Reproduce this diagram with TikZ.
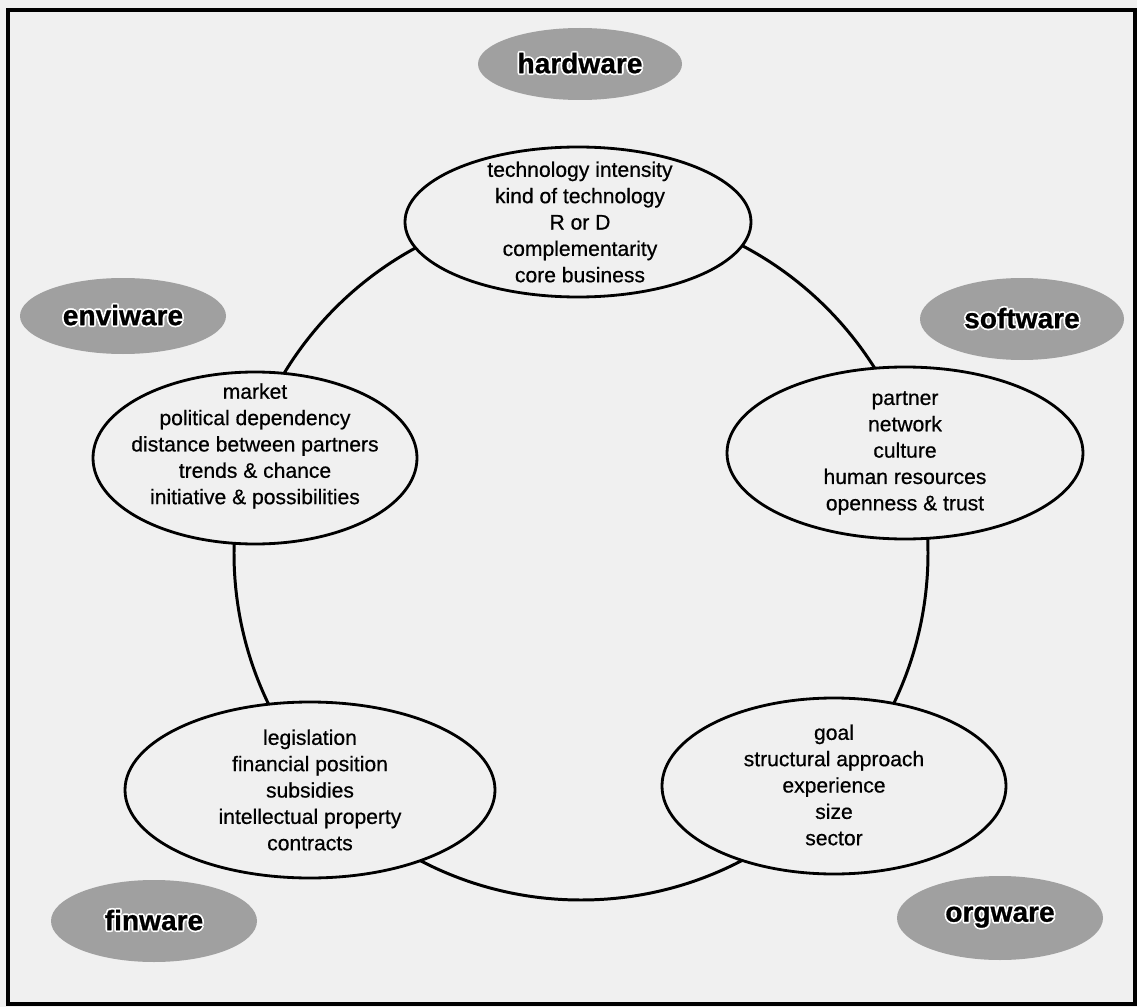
\documentclass[tikz,border=0pt]{standalone}
\usepackage{fontspec}
\setmainfont{Liberation Sans}
\newfontface\itemfont{Liberation Sans}[FakeBold=0.6]
\newfontface\warefont{Liberation Sans Bold}[FakeBold=0.8]
\usepackage[copies]{contour}
\contourlength{1pt}
\contournumber{8}
\usetikzlibrary{shapes.geometric}
\definecolor{paper}{RGB}{240,240,240}
\definecolor{halftone}{RGB}{160,160,160}
\tikzset{
  factorbox/.style={ellipse, draw=black, line width=1.6pt, fill=paper, inner sep=0pt},
  factortext/.style={align=center, inner sep=0pt, font=\fontsize{12}{15}\itemfont},
  warebox/.style={ellipse, fill=halftone, inner sep=0pt, font=\fontsize{16}{18}\warefont},
  ringline/.style={circle, draw=black, line width=1.7pt, inner sep=0pt},
}
% bold label with a thin white halo, as on the shaded ovals
\newcommand{\waretext}[1]{\contour{white}{#1}}
\begin{document}
\begin{tikzpicture}[x=0.02cm, y=-0.02cm]
  % page and frame
  \path[fill=paper] (0,0) rectangle (1137,1007);
  \useasboundingbox (0,0) rectangle (1137,1007);
  \draw[line width=2pt] (8,10) rectangle (1135,1004);

  % ring linking the five factor groups
  \node[ringline, minimum size=694*0.02cm] (ring) at (581,553) {};

  % factor groups
  \node[factorbox, minimum width=346*0.02cm, minimum height=150*0.02cm] (hw) at (578,222) {};
  \node[factortext] (hwtext) at (580,222) {technology intensity\\kind of technology\\R or D\\complementarity\\core business};

  \node[factorbox, minimum width=356*0.02cm, minimum height=172*0.02cm] (sw) at (905,453) {};
  \node[factortext] (swtext) at (905,453) {partner\\network\\culture\\human resources\\openness \& trust};

  \node[factorbox, minimum width=324*0.02cm, minimum height=172*0.02cm] (ew) at (255,458) {};
  \node[factortext] (ewtext) at (255,446) {market\\political dependency\\distance between partners\\trends \& chance\\initiative \& possibilities};

  \node[factorbox, minimum width=370*0.02cm, minimum height=176*0.02cm] (fw) at (310,790) {};
  \node[factortext] (fwtext) at (310,790) {legislation\\financial position\\subsidies\\intellectual property\\contracts};

  \node[factorbox, minimum width=344*0.02cm, minimum height=176*0.02cm] (ow) at (834,786) {};
  \node[factortext] (owtext) at (834,785) {goal\\structural approach\\experience\\size\\sector};

  % shaded category labels
  \node[warebox, minimum width=204*0.02cm, minimum height=72*0.02cm] (hardware) at (580,64) {\waretext{hardware}};
  \node[warebox, minimum width=206*0.02cm, minimum height=76*0.02cm] (enviware) at (123,316) {\waretext{enviware}};
  \node[warebox, minimum width=204*0.02cm, minimum height=82*0.02cm] (software) at (1022,319) {\waretext{software}};
  \node[warebox, minimum width=206*0.02cm, minimum height=82*0.02cm] (finware) at (154,921) {\waretext{finware}};
  \node[warebox, minimum width=206*0.02cm, minimum height=84*0.02cm] (orgware) at (1000,918) {\waretext{orgware}};
\end{tikzpicture}
\end{document}
